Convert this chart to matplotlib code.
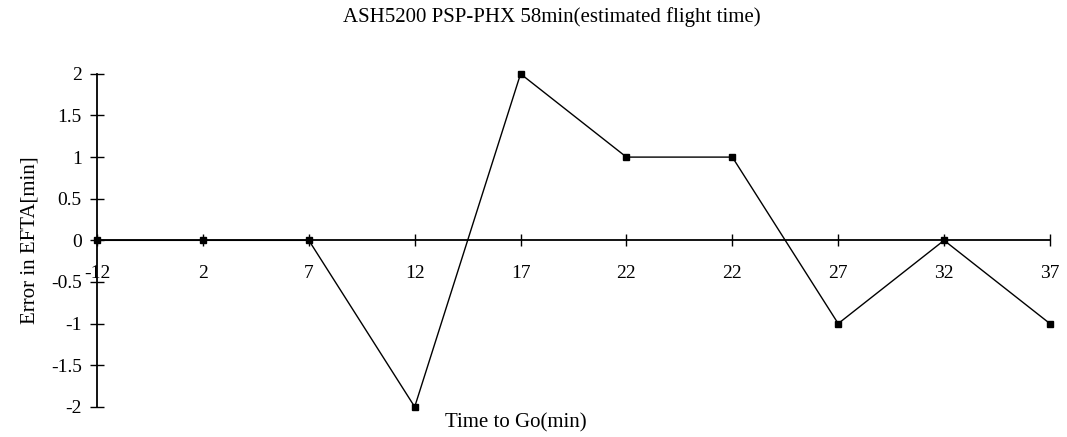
import matplotlib.pyplot as plt

plt.rcParams['font.family'] = ['Liberation Serif', 'DejaVu Serif']

# time to go labels (categorical, note the repeated 22)
time_labels = ['-12', '2', '7', '12', '17', '22', '22', '27', '32', '37']
# error in EFTA [min]
errors = [0, 0, 0, -2, 2, 1, 1, -1, 0, -1]
y_ticks = [-2, -1.5, -1, -0.5, 0, 0.5, 1, 1.5, 2]

fig = plt.figure(figsize=(10.67, 4.37), dpi=100)
ax = fig.add_axes([0.091, 0.069, 0.893, 0.762])

xs = list(range(len(errors)))
ax.plot(xs, errors, color='black', linewidth=1.0, marker='s',
        markersize=4.5, markerfacecolor='black', markeredgecolor='black',
        clip_on=False, zorder=3)

ax.set_xlim(0, len(errors) - 1)
ax.set_ylim(-2, 2)

# axis line crosses at zero, no box
ax.spines['bottom'].set_position(('data', 0))
ax.spines['top'].set_visible(False)
ax.spines['right'].set_visible(False)
ax.spines['left'].set_linewidth(1.3)
ax.spines['bottom'].set_linewidth(1.3)

ax.set_xticks(xs)
ax.set_xticklabels(time_labels)
ax.set_yticks(y_ticks)
ax.set_yticklabels([f'{v:g}' for v in y_ticks])
ax.tick_params(axis='x', direction='inout', length=8, width=1.0,
               pad=14, labelsize=14)
ax.tick_params(axis='y', direction='inout', length=10, width=1.0,
               pad=6, labelsize=14)

fig.text(0.517, 0.962, 'ASH5200 PSP-PHX 58min(estimated flight time)',
         fontsize=15, ha='center', va='center')
ax.set_ylabel('Error in EFTA[min]', fontsize=15, labelpad=8)
fig.text(0.483, 0.032, 'Time to Go(min)', fontsize=15, ha='center',
         va='center')

fig.savefig('out.png', dpi=100)
